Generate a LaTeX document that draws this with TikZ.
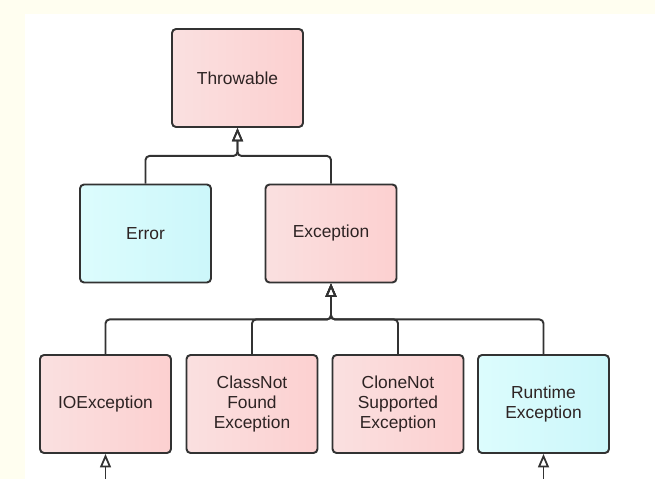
\documentclass[tikz,border=0pt]{standalone}
\usepackage{fontspec}
\setmainfont{Liberation Sans}
\usepackage{xcolor}
\usepackage{tikz}
\usetikzlibrary{arrows.meta, positioning, calc}
\definecolor{creambg}{RGB}{255,254,240}
\definecolor{pinkL}{RGB}{250,224,224}
\definecolor{pinkR}{RGB}{252,208,208}
\definecolor{cyanL}{RGB}{220,252,253}
\definecolor{cyanR}{RGB}{204,247,250}
\definecolor{edgegray}{RGB}{50,50,50}
\definecolor{labeltext}{RGB}{45,35,35}

\begin{document}
\begin{tikzpicture}[x=0.02cm, y=-0.02cm,
    cls/.style={rectangle, rounded corners=0.08cm, draw=edgegray, line width=1.1pt, left color=pinkL, right color=pinkR, minimum width=2.62cm, minimum height=1.96cm, align=center, text=labeltext, font=\fontsize{9.9}{11.6}\selectfont},
    errcls/.style={cls, left color=cyanL, right color=cyanR},
    link/.style={-{Triangle[open, width=0.22cm, length=0.27cm, line width=1pt]}, line width=1.1pt, color=edgegray, rounded corners=0.08cm}
]
    \useasboundingbox (0,0) rectangle (655,479);
    \fill[creambg] (0,0) rectangle (655,479);
    \fill[white] (25,14) rectangle (655,479);

    \node[cls] (throwable) at (237.5,78) {Throwable};
    \node[errcls] (error) at (145.5,233.5) {Error};
    \node[cls] (exception) at (331,233.5) {Exception};

    \node[cls] (ioexc) at (105.5,404) {IOException};
    \node[cls] (classnot) at (252,404) {ClassNot\\Found\\Exception};
    \node[cls] (clonenot) at (398,404) {CloneNot\\Supported\\Exception};
    \node[errcls] (runtime) at (543.5,404) {Runtime\\Exception};

    \coordinate (topbus) at ($(throwable.south)+(0,28)$);
    \coordinate (lowbus) at ($(exception.south)+(0,36)$);
    \coordinate (iobot) at (ioexc.south |- 0,479);
    \coordinate (rtbot) at (runtime.south |- 0,479);

    \draw[link] (error.north) |- (topbus) -- (throwable.south);
    \draw[link] (exception.north) |- (topbus) -- (throwable.south);

    \foreach \sub in {ioexc, classnot, clonenot, runtime}
        \draw[link] (\sub.north) |- (lowbus) -- (exception.south);

    \draw[link] (iobot) -- (ioexc.south);
    \draw[link] (rtbot) -- (runtime.south);
\end{tikzpicture}
\end{document}
